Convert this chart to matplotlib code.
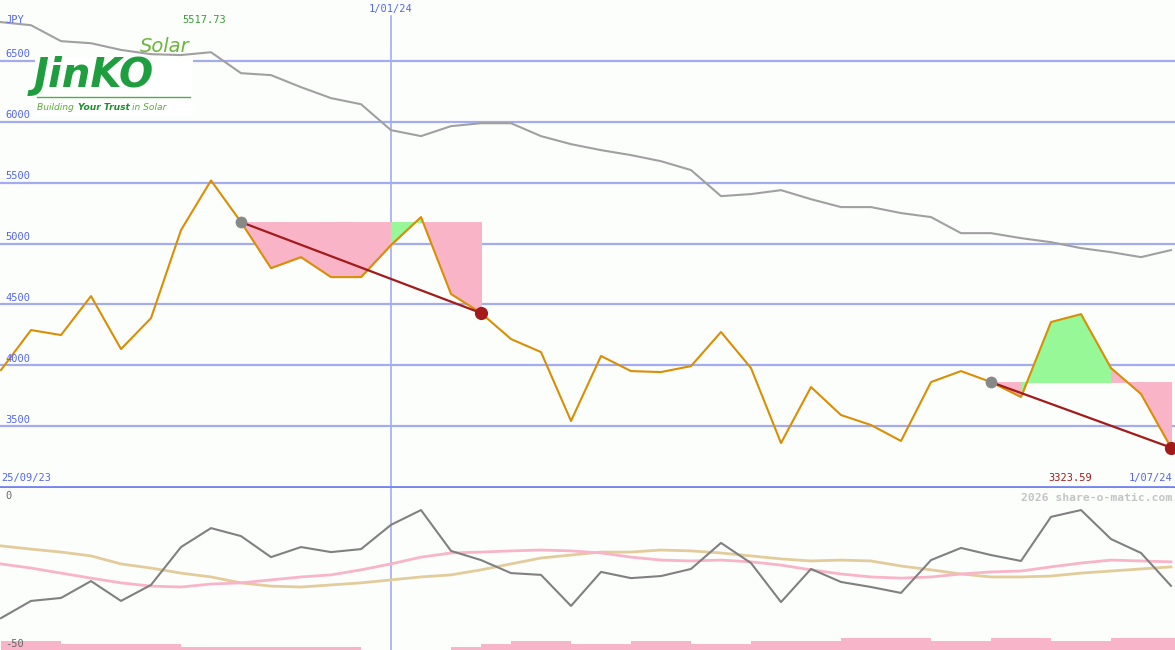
import numpy as np
import pandas as pd
import matplotlib
matplotlib.use("Agg")
import matplotlib.pyplot as plt
import matplotlib.dates as mdates
from matplotlib.patches import Rectangle

# ---------------- data ----------------
dates = pd.date_range("2023-10-02", periods=40, freq="7D")

price = [3961, 4289, 4248, 4568, 4133, 4387, 5110, 5517.73, 5176, 4798,
         4888, 4724, 4724, 4987, 5217, 4585, 4429, 4215, 4108, 3542,
         4076, 3952, 3944, 3993, 4273, 3977, 3361, 3821, 3591, 3509,
         3378, 3862, 3952, 3862, 3739, 4355, 4420, 3977, 3764, 3323.59]

avg_line = [6818, 6793, 6662, 6645, 6590, 6555, 6548, 6571, 6399, 6383,
            6284, 6194, 6144, 5931, 5882, 5964, 5988, 5988, 5882, 5816,
            5767, 5726, 5676, 5603, 5389, 5406, 5438, 5364, 5299, 5299,
            5250, 5217, 5085, 5085, 5044, 5011, 4962, 4929, 4888, 4946]

osc = [-39.9, -34.1, -33.1, -27.4, -34.1, -28.7, -15.9, -9.5, -12.2, -19.3,
       -15.9, -17.6, -16.6, -8.4, -3.4, -17.2, -20.3, -24.7, -25.3, -35.8,
       -24.3, -26.4, -25.7, -23.3, -14.5, -21.3, -34.5, -23.3, -27.7, -29.4,
       -31.4, -20.3, -16.2, -18.6, -20.6, -5.7, -3.4, -13.2, -17.9, -29.0]

osc_pink = [-21.6, -23.0, -24.7, -26.4, -28.0, -29.1, -29.4, -28.4, -28.0, -27.0,
            -26.0, -25.3, -23.6, -21.6, -19.3, -17.9, -17.6, -17.2, -16.9, -17.2,
            -17.9, -19.3, -20.3, -20.6, -20.3, -20.9, -22.0, -23.6, -25.0, -26.0,
            -26.4, -26.0, -25.0, -24.3, -24.0, -22.6, -21.3, -20.3, -20.6, -20.9]

osc_tan = [-15.5, -16.6, -17.6, -18.9, -21.6, -23.0, -24.7, -26.0, -28.0, -29.1,
           -29.4, -28.7, -28.0, -27.0, -26.0, -25.3, -23.6, -21.6, -19.6, -18.6,
           -17.6, -17.6, -16.9, -17.2, -17.9, -18.9, -19.9, -20.6, -20.3, -20.6,
           -22.3, -23.6, -25.0, -26.0, -26.0, -25.7, -24.7, -24.0, -23.3, -22.6]

volume_level = [3, 3, 2, 2, 2, 2, 1, 1, 1, 1,
                1, 1, 0, 0, 0, 1, 2, 3, 3, 2,
                2, 3, 3, 2, 2, 3, 3, 3, 4, 4,
                4, 3, 3, 4, 4, 3, 3, 4, 4, 4]

# trend segments: (start index, end index)
trends = [(8, 16), (33, 39)]

y_ticks = [3500, 4000, 4500, 5000, 5500, 6000, 6500]
marker_date = "2024-01-01"
left_label = "25/09/23"
right_label = "1/07/24"
top_label = "1/01/24"
unit_label = "JPY"
max_label = "5517.73"
min_label = "3323.59"

# ---------------- style ----------------
BG = "#fcfefc"
GRID = "#a4acf0"
BLUE_TXT = "#5566ee"
ORANGE = "#d98e04"
GRAY = "#a0a0a0"
DGRAY = "#808080"
PINK = "#f9b4c8"
GREEN = "#96f896"
DRED = "#a31a1a"
TAN = "#e2cc9c"
PINKL = "#f8b4c8"
MONO = "DejaVu Sans Mono"

W, H = 1175, 650
fig = plt.figure(figsize=(W / 100, H / 100), dpi=100, facecolor=BG)

x = mdates.date2num(dates)
wk = x[1] - x[0]
px = wk / 30.0
xlim = (x[0] - 1 * px, x[0] + (W - 1) * px)

# upper panel
ax = fig.add_axes([0, (H - 487) / H, 1, 487 / H])
ax.set_facecolor(BG)
ax.set_xlim(*xlim)
ax.set_ylim(3000, 7000)
for s in ax.spines.values():
    s.set_visible(False)
ax.set_xticks([])
ax.set_yticks([])

for yt in y_ticks:
    ax.axhline(yt, color=GRID, lw=1.6, zorder=1)
    ax.text(xlim[0] + 5 * px, yt + 12, str(yt), color=BLUE_TXT, fontsize=7.5,
            family=MONO, va="bottom", ha="left", zorder=6)

xm = mdates.date2num(pd.Timestamp(marker_date))
ax.axvline(xm, ymin=0, ymax=1 - 16 / 487, color=GRID, lw=1.2, zorder=1)

# fills
for s, e in trends:
    level = price[s]
    for i in range(s, e):
        col = GREEN if price[i + 1] > level else PINK
        ax.fill_between([x[i], x[i + 1]], [level, level], [price[i], price[i + 1]],
                        facecolor=col, edgecolor=col, lw=0.7, zorder=2)

ax.plot(x, avg_line, color=GRAY, lw=1.5, zorder=3)
ax.plot(x, price, color=ORANGE, lw=1.5, zorder=4)

for s, e in trends:
    ax.plot([x[s], x[e]], [price[s], price[e]], color=DRED, lw=1.6, zorder=5)
    ax.plot(x[s], price[s], "o", color="#888888", ms=8.5, mec="none", zorder=6)
    ax.plot(x[e], price[e], "o", color=DRED, ms=9.5, mec="none", zorder=6)

# bottom border of upper panel
ax.axhline(3000, color="#7484f0", lw=2, zorder=6, clip_on=False)

# texts
ax.text(xlim[0] + 5 * px, 6836, unit_label, color=BLUE_TXT, fontsize=7.5, family=MONO,
        va="center", ha="left", zorder=7)
imax = int(np.argmax(price))
ax.text(x[imax] - 7 * px, 6835, max_label, color="#3a9a3a", fontsize=7.5, family=MONO,
        va="center", ha="center", zorder=7)
ax.text(xm, 6930, top_label, color=BLUE_TXT, fontsize=7.5, family=MONO,
        va="center", ha="center", zorder=7)
ax.text(xlim[0] + 1 * px, 3030, left_label, color=BLUE_TXT, fontsize=7.5, family=MONO,
        va="bottom", ha="left", zorder=7)
ax.text(xlim[1] - 3 * px, 3030, right_label, color=BLUE_TXT, fontsize=7.5, family=MONO,
        va="bottom", ha="right", zorder=7)
ax.text(xlim[1] - 83 * px, 3030, min_label, color=DRED, fontsize=7.5, family=MONO,
        va="bottom", ha="right", zorder=7)

# logo (as text)
fig.patches.append(Rectangle((35 / W, 1 - 116 / H), 158 / W, 58 / H,
                             transform=fig.transFigure, facecolor="white",
                             edgecolor="none", zorder=8))
fig.text(165 / W, 1 - 47 / H, "Solar", color="#6cb43c", fontsize=14, style="italic",
         family="DejaVu Sans", ha="center", va="center", zorder=9)
fig.text(34 / W, 1 - 76 / H, "JinKO", color="#1e9e3e", fontsize=29, weight="bold",
         style="italic", family="DejaVu Sans", ha="left", va="center", zorder=9)
fig.lines.append(plt.Line2D([37 / W, 190 / W], [1 - 97 / H, 1 - 97 / H],
                            transform=fig.transFigure, color="#4cae4c", lw=1.0, zorder=9))
fig.text(37 / W, 1 - 107 / H, "Building ", color="#5aaa3a", fontsize=6.6,
         style="italic", family="DejaVu Sans", ha="left", va="center", zorder=9)
fig.text(78 / W, 1 - 107 / H, "Your Trust", color="#1e8e2e", fontsize=6.6, weight="bold",
         style="italic", family="DejaVu Sans", ha="left", va="center", zorder=9)
fig.text(132 / W, 1 - 107 / H, "in Solar", color="#5aaa3a", fontsize=6.6,
         style="italic", family="DejaVu Sans", ha="left", va="center", zorder=9)

# lower panel
bx = fig.add_axes([0, 0, 1, 162 / H])
bx.set_facecolor(BG)
bx.set_xlim(*xlim)
bot = -50.68
bx.set_ylim(bot, 4.05)
for s in bx.spines.values():
    s.set_visible(False)
bx.set_xticks([])
bx.set_yticks([])

bx.axvline(xm, color=GRID, lw=1.2, zorder=1)
bx.bar(x, [v * 1.0 for v in volume_level], width=wk, align="edge", bottom=bot,
       color=PINKL, lw=0, zorder=1)
bx.plot(x, osc_tan, color=TAN, lw=2.0, zorder=2)
bx.plot(x, osc_pink, color=PINKL, lw=2.0, zorder=2)
bx.plot(x, osc, color=DGRAY, lw=1.5, zorder=3)

bx.text(xlim[0] + 5 * px, 1.5, "0", color="#666666", fontsize=7.5, family=MONO,
        va="center", ha="left")
bx.text(xlim[0] + 5 * px, -48.5, "-50", color="#666666", fontsize=7.5, family=MONO,
        va="center", ha="left", zorder=5)
bx.text(xlim[1] - 3 * px, 0.8, "2026 share-o-matic.com", color="#c4c4c4", fontsize=8.2,
        family=MONO, weight="bold", va="center", ha="right")

fig.savefig("out.png", dpi=100, facecolor=BG)
